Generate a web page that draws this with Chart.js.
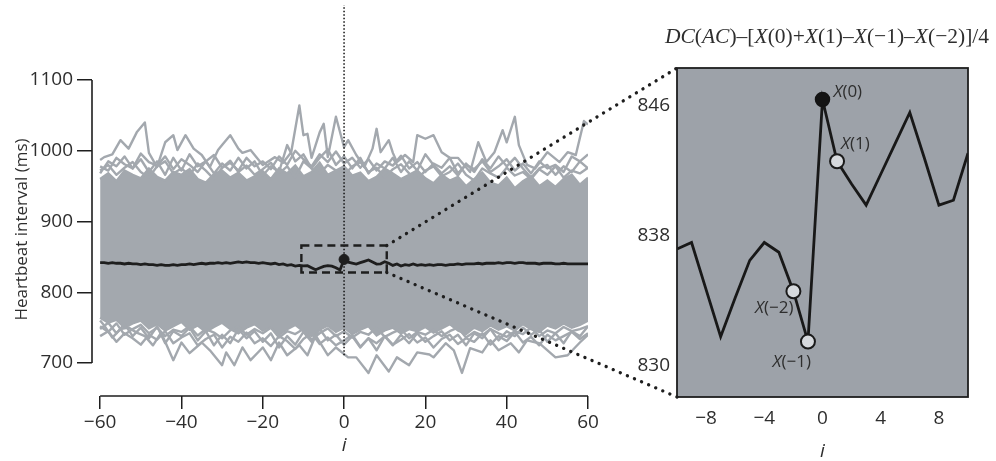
<!DOCTYPE html>
<html>
<head>
<meta charset="utf-8">
<script src="https://cdn.jsdelivr.net/npm/chart.js@4.4.1/dist/chart.umd.min.js"></script>
<style>
    html, body { margin: 0; padding: 0; background: #ffffff; }
    #wrap { position: relative; width: 996px; height: 461px; }
    #wrap canvas { position: absolute; left: 0; top: 0; }
</style>
</head>
<body>
<div id="wrap">
    <canvas id="overview" width="996" height="461"></canvas>
    <canvas id="detail" width="996" height="461"></canvas>
</div>
<script>
// beat index relative to the trigger beat
const meanBeats = [];
for (let b = -60; b <= 60; b++) meanBeats.push(b);
const coreBeats = meanBeats.filter(b => b % 2 === 0);

// averaged heartbeat interval (ms), one value per beat index
const meanValues = [
    842, 842, 841, 842, 841, 841, 840, 841, 840, 840,
    839, 840, 839, 839, 838, 839, 838, 838, 839, 838,
    839, 839, 840, 839, 840, 841, 840, 841, 841, 842,
    841, 842, 841, 842, 843, 842, 843, 842, 842, 841,
    842, 841, 840, 841, 839, 840, 838, 839, 837, 838,
    837.2, 837.6, 834.7, 831.8, 834.2, 836.5, 837.6, 837.0, 834.6, 831.5,
    846.4,
    842.6, 841.2, 839.9, 841.8, 843.7, 845.6, 842.8, 839.9, 840.2, 843.1,
    841, 838, 840, 837, 839, 838, 840, 838, 839, 838,
    839, 838, 839, 839, 838, 839, 839, 840, 839, 840,
    840, 840, 841, 840, 841, 841, 841, 842, 841, 842,
    842, 841, 842, 842, 841, 841, 841, 840, 841, 841,
    841, 840, 840, 841, 840, 840, 840, 840, 840, 840
];

// dense body of the individual segments (upper / lower edge every 2 beats)
const coreTop = [
    960, 968, 957, 972, 966, 961, 975, 963, 958, 970,
    966, 974, 960, 955, 967, 972, 962, 969, 958, 964,
    971, 960, 975, 968, 979, 964, 970, 983, 966, 972,
    978, 965, 969, 957, 963, 975, 968, 960, 966, 972,
    961, 954, 966, 958, 963, 950, 960, 969, 955, 951,
    962, 947, 957, 964, 950, 958, 949, 960, 966, 952,
    962
];
const coreBottom = [
    764, 757, 761, 750, 756, 760, 749, 755, 746, 752,
    758, 747, 753, 744, 751, 757, 748, 742, 750, 755,
    746, 752, 740, 748, 754, 745, 738, 747, 753, 744,
    750, 741, 747, 752, 739, 746, 750, 742, 748, 745,
    751, 743, 749, 755, 746, 741, 750, 745, 753, 747,
    752, 746, 755, 748, 744, 753, 749, 756, 750, 754,
    760
];

// outermost segments above the body
const highBeats = [-60, -59, -57, -55, -53, -51, -49, -48, -46, -44, -42, -41, -39, -37, -35, -33, -31, -30, -28, -26,
    -25, -23, -20, -17, -15, -13, -11, -10, -9, -8, -6, -5, -4, -2, 0, 1, 3, 5, 7, 8,
    9, 11, 12, 13, 15, 17, 18, 20, 22, 24, 26, 28, 31, 33, 35, 37, 39, 40, 42, 43,
    45, 47, 50, 53, 55, 57, 59, 60];
const highValues = [987, 991, 995, 1015, 1003, 1026, 1040, 997, 977, 1012, 1022, 1001, 1022, 1003, 994, 977, 1001, 1008, 1022, 1003,
    997, 1001, 980, 991, 983, 998, 1064, 1022, 1024, 990, 1026, 1038, 991, 1048, 1005, 1015, 994, 977, 1003, 1031,
    998, 1015, 997, 984, 994, 984, 1022, 1017, 1022, 998, 990, 990, 970, 1012, 984, 998, 1029, 1012, 1048, 1008,
    980, 975, 998, 984, 998, 994, 1042, 1037];

// further segments between the outermost ones and the body (every 2 beats)
const upperA = [
    968, 985, 978, 992, 975, 988, 970, 985, 966, 990,
    972, 995, 978, 985, 968, 982, 972, 990, 975, 985,
    965, 978, 970, 1008, 985, 995, 975, 990, 1002, 980,
    992, 975, 990, 968, 982, 975, 990, 970, 985, 972,
    995, 980, 968, 978, 965, 982, 970, 988, 975, 992,
    978, 990, 975, 962, 975, 980, 966, 978, 970, 985,
    975
];
const upperB = [
    978, 972, 990, 981, 975, 996, 984, 979, 992, 974,
    988, 980, 970, 985, 994, 976, 983, 972, 990, 978,
    985, 974, 992, 980, 1000, 988, 978, 995, 984, 999,
    982, 990, 976, 988, 972, 985, 979, 993, 975, 984,
    970, 982, 976, 990, 968, 980, 974, 985, 970, 978,
    988, 972, 982, 968, 985, 975, 980, 970, 992, 985,
    995
];
const upperC = [
    972, 980, 966, 976, 984, 970, 962, 978, 985, 968,
    975, 965, 982, 972, 960, 976, 986, 970, 979, 966,
    974, 983, 968, 978, 962, 985, 975, 968, 980, 972,
    965, 978, 984, 970, 976, 962, 974, 981, 968, 960,
    972, 978, 964, 970, 982, 966, 958, 975, 968, 962,
    976, 965, 970, 960, 974, 966, 978, 962, 972, 968,
    976
];

// outermost segments below the body
const lowBeats = [-60, -59, -57, -55, -53, -51, -49, -47, -45, -42, -40, -38, -35, -33, -30, -29, -27, -25, -23, -20,
    -18, -16, -14, -11, -9, -7, -4, -2, 1, 3, 6, 8, 11, 13, 16, 18, 21, 22, 25, 27,
    29, 31, 34, 36, 38, 41, 43, 45, 48, 52, 55, 58, 60];
const lowValues = [760, 753, 736, 748, 750, 743, 738, 725, 743, 704, 729, 714, 729, 718, 697, 715, 697, 722, 704, 722,
    704, 729, 711, 725, 711, 739, 711, 722, 708, 708, 686, 711, 688, 708, 697, 715, 712, 708, 728, 718,
    686, 721, 715, 732, 718, 728, 715, 732, 728, 708, 711, 729, 740];

const lowerA = [
    748, 757, 742, 755, 738, 750, 735, 752, 728, 745,
    738, 750, 732, 745, 725, 740, 728, 748, 735, 745,
    730, 742, 722, 738, 726, 744, 730, 748, 732, 740,
    726, 738, 722, 735, 718, 738, 725, 740, 728, 742,
    730, 738, 745, 732, 740, 725, 742, 735, 748, 732,
    745, 738, 750, 740, 748, 730, 742, 728, 745, 738,
    752
];
const lowerB = [
    738, 745, 730, 742, 735, 726, 740, 733, 745, 728,
    736, 742, 725, 734, 740, 722, 737, 730, 743, 728,
    735, 724, 738, 731, 720, 734, 742, 727, 736, 725,
    732, 740, 723, 735, 728, 738, 726, 733, 741, 729,
    736, 722, 734, 740, 727, 735, 730, 742, 726, 738,
    731, 744, 729, 737, 725, 740, 732, 738, 744, 734,
    742
];
const lowerC = [
    752, 744, 756, 740, 748, 754, 742, 750, 738, 747,
    744, 752, 739, 748, 743, 735, 746, 752, 740, 748,
    742, 750, 736, 745, 741, 748, 733, 742, 749, 738,
    745, 736, 744, 740, 750, 737, 743, 748, 735, 744,
    740, 747, 738, 745, 750, 736, 744, 739, 748, 742,
    737, 745, 741, 750, 738, 746, 742, 751, 745, 748,
    752
];

const overviewTicksX = [-60, -40, -20, 0, 20, 40, 60];
const overviewTicksY = [700, 800, 900, 1000, 1100];
const detailTicksX = [-8, -4, 0, 4, 8];
const detailTicksY = [830, 838, 846];

// highlighted beats of the deceleration capacity formula
const openBeats = [-2, -1, 1];
const anchorBeat = 0;
const markerLabels = { '-2': 'X(−2)', '-1': 'X(−1)', '0': 'X(0)', '1': 'X(1)' };

// window around the anchor that is magnified on the right
const zoomWindow = { beats: [-10.5, 10.5], values: [828, 866] };

const GRAY = '#a3a8ae';
const INK = '#1e1e1e';
const TEXT = '#2e2e2e';
const SANS = '"Open Sans", "DejaVu Sans", sans-serif';
const SERIF = '"Liberation Serif", "DejaVu Serif", serif';

function pts(xs, ys) {
    return xs.map((x, k) => ({ x: x, y: ys[k] }));
}

function valueAt(beat) {
    return meanValues[meanBeats.indexOf(beat)];
}

function signed(v) {
    return v < 0 ? '−' + Math.abs(v) : String(v);
}

function drawRuns(ctx, runs, x, y, align) {
    let total = 0;
    runs.forEach(r => { ctx.font = r[1]; total += ctx.measureText(r[0]).width; });
    let cx = align === 'right' ? x - total : align === 'center' ? x - total / 2 : x;
    ctx.textAlign = 'left';
    runs.forEach(r => {
        ctx.font = r[1];
        ctx.fillText(r[0], cx, y);
        cx += ctx.measureText(r[0]).width;
    });
}

function grayTrace(data, order) {
    return {
        data: data,
        borderColor: GRAY,
        borderWidth: 2.4,
        borderJoinStyle: 'round',
        pointRadius: 0,
        tension: 0,
        fill: false,
        order: order
    };
}

const overviewFrame = {
    id: 'overviewFrame',
    afterDraw(chart) {
        const ctx = chart.ctx;
        const x = chart.scales.x;
        const y = chart.scales.y;
        const area = chart.chartArea;
        ctx.save();

        // detached axis lines
        ctx.strokeStyle = INK;
        ctx.lineWidth = 1.6;
        ctx.beginPath();
        ctx.moveTo(x.getPixelForValue(-60), area.bottom);
        ctx.lineTo(x.getPixelForValue(60), area.bottom);
        ctx.moveTo(area.left, y.getPixelForValue(700));
        ctx.lineTo(area.left, y.getPixelForValue(1100));
        ctx.stroke();

        // dashed window
        ctx.setLineDash([8, 5]);
        ctx.lineWidth = 2.4;
        const x0 = x.getPixelForValue(zoomWindow.beats[0]);
        const x1 = x.getPixelForValue(zoomWindow.beats[1]);
        const y0 = y.getPixelForValue(zoomWindow.values[1]);
        const y1 = y.getPixelForValue(zoomWindow.values[0]);
        ctx.strokeRect(x0, y0, x1 - x0, y1 - y0);
        ctx.setLineDash([]);

        ctx.fillStyle = TEXT;
        ctx.textBaseline = 'middle';
        drawRuns(ctx, [['i', 'italic 19px ' + SANS]], x.getPixelForValue(0), 446, 'center');

        ctx.translate(22, (y.getPixelForValue(700) + y.getPixelForValue(1100)) / 2 + 8);
        ctx.rotate(-Math.PI / 2);
        ctx.font = '17px ' + SANS;
        ctx.textAlign = 'center';
        ctx.fillText('Heartbeat interval (ms)', 0, 0);
        ctx.restore();
    }
};

const overview = new Chart(document.getElementById('overview'), {
    type: 'line',
    data: {
        datasets: [
            {
                data: [{ x: anchorBeat, y: valueAt(anchorBeat) }],
                showLine: false,
                pointRadius: 5,
                pointBackgroundColor: INK,
                pointBorderColor: INK,
                order: 0
            },
            {
                data: pts(meanBeats, meanValues),
                borderColor: INK,
                borderWidth: 2.8,
                pointRadius: 0,
                tension: 0,
                order: 1
            },
            {
                data: [{ x: 0, y: 711 }, { x: 0, y: 1206 }],
                borderColor: '#111111',
                borderWidth: 1.5,
                borderDash: [1.5, 2],
                pointRadius: 0,
                clip: false,
                order: 2
            },
            grayTrace(pts(highBeats, highValues), 4),
            grayTrace(pts(coreBeats, upperA), 4),
            grayTrace(pts(coreBeats, upperB), 4),
            grayTrace(pts(coreBeats, upperC), 4),
            grayTrace(pts(lowBeats, lowValues), 4),
            grayTrace(pts(coreBeats, lowerA), 4),
            grayTrace(pts(coreBeats, lowerB), 4),
            grayTrace(pts(coreBeats, lowerC), 4),
            {
                data: pts(coreBeats, coreTop),
                borderColor: GRAY,
                borderWidth: 2.4,
                backgroundColor: GRAY,
                pointRadius: 0,
                tension: 0,
                fill: '+1',
                order: 6
            },
            {
                data: pts(coreBeats, coreBottom),
                borderColor: GRAY,
                borderWidth: 2.4,
                pointRadius: 0,
                tension: 0,
                fill: false,
                order: 6
            }
        ]
    },
    options: {
        responsive: false,
        animation: false,
        events: [],
        layout: { padding: { left: 0, top: 20, right: 408, bottom: 0 } },
        plugins: { legend: { display: false }, tooltip: { enabled: false } },
        scales: {
            x: {
                type: 'linear',
                min: -62,
                max: 60,
                afterBuildTicks: s => { s.ticks = overviewTicksX.map(v => ({ value: v })); },
                afterFit: s => { s.height = 65; },
                border: { display: false },
                grid: { drawOnChartArea: false, drawTicks: true, tickLength: 13, color: INK, lineWidth: 1.5 },
                ticks: { color: TEXT, padding: 2, font: { family: SANS, size: 19 }, callback: v => signed(v), maxRotation: 0 }
            },
            y: {
                type: 'linear',
                min: 653.4,
                max: 1184.8,
                afterBuildTicks: s => { s.ticks = overviewTicksY.map(v => ({ value: v })); },
                afterFit: s => { s.width = 92; },
                border: { display: false },
                grid: { drawOnChartArea: false, drawTicks: true, tickLength: 15, color: INK, lineWidth: 1.5 },
                ticks: { color: TEXT, padding: 4, font: { family: SANS, size: 19 }, callback: v => String(v) }
            }
        }
    },
    plugins: [overviewFrame]
});

const detailFrame = {
    id: 'detailFrame',
    beforeDatasetsDraw(chart) {
        const a = chart.chartArea;
        chart.ctx.save();
        chart.ctx.fillStyle = '#9da2a9';
        chart.ctx.fillRect(a.left, a.top, a.right - a.left, a.bottom - a.top);
        chart.ctx.restore();
    },
    afterDraw(chart) {
        const ctx = chart.ctx;
        const a = chart.chartArea;
        const x = chart.scales.x;
        const y = chart.scales.y;
        ctx.save();

        ctx.strokeStyle = INK;
        ctx.lineWidth = 1.8;
        ctx.strokeRect(a.left, a.top, a.right - a.left, a.bottom - a.top);

        // dotted leaders from the window to the magnified panel
        const ox = overview.scales.x;
        const oy = overview.scales.y;
        ctx.lineWidth = 3.3;
        ctx.lineCap = 'round';
        ctx.setLineDash([0.1, 7.6]);
        ctx.beginPath();
        ctx.moveTo(ox.getPixelForValue(zoomWindow.beats[1]), oy.getPixelForValue(zoomWindow.values[1]));
        ctx.lineTo(a.left, a.top);
        ctx.moveTo(ox.getPixelForValue(zoomWindow.beats[1]), oy.getPixelForValue(zoomWindow.values[0]));
        ctx.lineTo(a.left, a.bottom);
        ctx.stroke();
        ctx.setLineDash([]);

        // marker labels
        ctx.fillStyle = TEXT;
        ctx.textBaseline = 'middle';
        const it = 'italic 17px ' + SANS;
        const rm = '17px ' + SANS;
        const lbl = (beat, dx, dy, align) => {
            const text = markerLabels[String(beat)];
            drawRuns(ctx, [['X', it], [text.slice(1), rm]],
                x.getPixelForValue(beat) + dx, y.getPixelForValue(valueAt(beat)) + dy, align);
        };
        lbl(0, 11, -7, 'left');
        lbl(1, 4, -17, 'left');
        lbl(-2, 0, 17, 'right');
        lbl(-1, 3, 21, 'right');

        // formula
        const fi = 'italic 21.5px ' + SERIF;
        const fr = '21.5px ' + SERIF;
        drawRuns(ctx, [
            ['DC', fi], ['(', fr], ['AC', fi], [')', fr], ['–[', fr],
            ['X', fi], ['(0)+', fr], ['X', fi], ['(1)–', fr],
            ['X', fi], ['(−1)–', fr], ['X', fi], ['(−2)]/4', fr]
        ], 827, 37, 'center');

        drawRuns(ctx, [['i', 'italic 19px ' + SANS]], x.getPixelForValue(0), 452, 'center');
        ctx.restore();
    }
};

const windowBeats = meanBeats.filter(b => b >= -10 && b <= 10);

new Chart(document.getElementById('detail'), {
    type: 'line',
    data: {
        datasets: [
            {
                data: [{ x: anchorBeat, y: valueAt(anchorBeat) }],
                showLine: false,
                pointRadius: 7,
                pointBackgroundColor: '#141414',
                pointBorderColor: '#141414',
                pointBorderWidth: 1.5,
                order: 0
            },
            {
                data: openBeats.map(b => ({ x: b, y: valueAt(b) })),
                showLine: false,
                pointRadius: 7,
                pointBackgroundColor: '#d6d9dd',
                pointBorderColor: '#1a1a1a',
                pointBorderWidth: 2,
                order: 0
            },
            {
                data: windowBeats.map(b => ({ x: b, y: valueAt(b) })),
                borderColor: '#181818',
                borderWidth: 2.8,
                borderJoinStyle: 'miter',
                pointRadius: 0,
                tension: 0,
                order: 1
            }
        ]
    },
    options: {
        responsive: false,
        animation: false,
        events: [],
        layout: { padding: { left: 600, top: 68, right: 28, bottom: 0 } },
        plugins: { legend: { display: false }, tooltip: { enabled: false } },
        scales: {
            x: {
                type: 'linear',
                min: -10,
                max: 10,
                afterBuildTicks: s => { s.ticks = detailTicksX.map(v => ({ value: v })); },
                afterFit: s => { s.height = 64; },
                border: { display: false },
                grid: { display: false, drawTicks: false },
                ticks: { color: TEXT, padding: 10, font: { family: SANS, size: 19 }, callback: v => signed(v), maxRotation: 0 }
            },
            y: {
                type: 'linear',
                min: 828.09,
                max: 848.34,
                afterBuildTicks: s => { s.ticks = detailTicksY.map(v => ({ value: v })); },
                afterFit: s => { s.width = 77; },
                border: { display: false },
                grid: { display: false, drawTicks: false },
                ticks: { color: TEXT, padding: 7, font: { family: SANS, size: 19 }, callback: v => String(v) }
            }
        }
    },
    plugins: [detailFrame]
});
</script>
</body>
</html>
